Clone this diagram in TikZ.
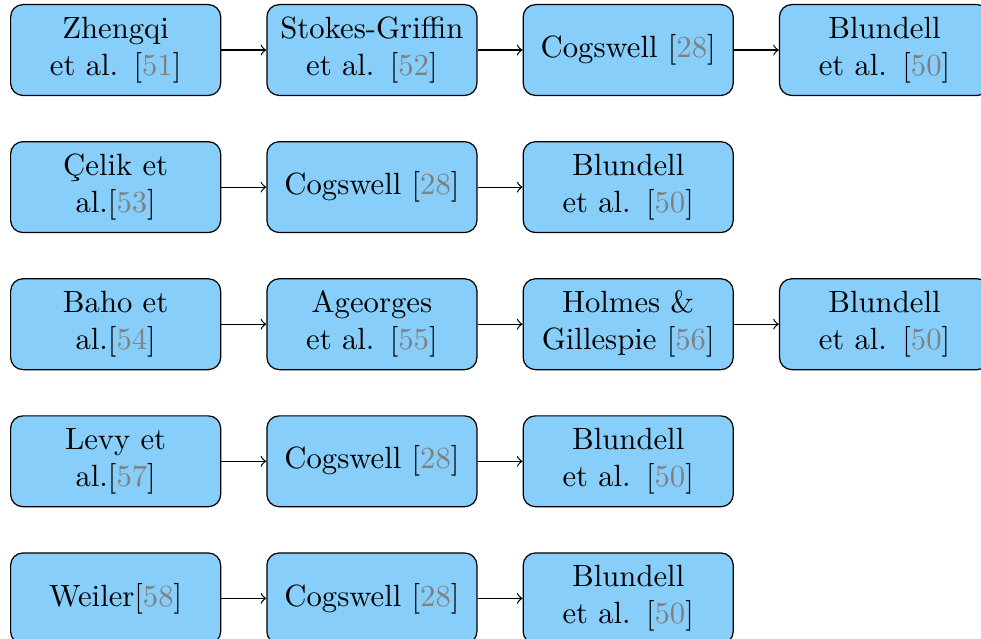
\documentclass[tikz,border=0pt]{standalone}
\usepackage{fontspec}
\usepackage{xcolor}
\usepackage{tikz}
\usetikzlibrary{positioning}
\definecolor{boxblue}{RGB}{135,206,250}
\newcommand{\bibref}[1]{[\textcolor{gray}{#1}]}
\tikzset{
  work/.style={draw=black, fill=boxblue, rounded corners=4pt, text width=2.17cm,
    align=center, minimum height=1.04cm, inner sep=3.33pt},
  flow/.style={->, draw=black, line width=0.4pt}
}

\begin{document}
\begin{tikzpicture}[node distance=0.515cm]
  \useasboundingbox (-3.26pt,1.3pt) rectangle (316.2pt,-206.5pt);
  % row 1
  \node[work, anchor=north west] (a1) at (0,0) {Zhengqi et al. \bibref{51}};
  \node[work, right=of a1] (a2) {Stokes-Griffin et al. \bibref{52}};
  \node[work, right=of a2] (a3) {Cogswell \bibref{28}};
  \node[work, right=of a3] (a4) {Blundell et al. \bibref{50}};
  % row 2
  \node[work, below=of a1] (b1) {Çelik et al.\bibref{53}};
  \node[work, right=of b1] (b2) {Cogswell \bibref{28}};
  \node[work, right=of b2] (b3) {Blundell et al. \bibref{50}};
  % row 3
  \node[work, below=of b1] (c1) {Baho et al.\bibref{54}};
  \node[work, right=of c1] (c2) {Ageorges et al. \bibref{55}};
  \node[work, right=of c2] (c3) {Holmes \& Gillespie \bibref{56}};
  \node[work, right=of c3] (c4) {Blundell et al. \bibref{50}};
  % row 4
  \node[work, below=of c1] (d1) {Levy et al.\bibref{57}};
  \node[work, right=of d1] (d2) {Cogswell \bibref{28}};
  \node[work, right=of d2] (d3) {Blundell et al. \bibref{50}};
  % row 5
  \node[work, below=of d1] (e1) {Weiler\bibref{58}};
  \node[work, right=of e1] (e2) {Cogswell \bibref{28}};
  \node[work, right=of e2] (e3) {Blundell et al. \bibref{50}};
  % arrows
  \draw[flow] (a1) -- (a2);
  \draw[flow] (a2) -- (a3);
  \draw[flow] (a3) -- (a4);
  \draw[flow] (b1) -- (b2);
  \draw[flow] (b2) -- (b3);
  \draw[flow] (c1) -- (c2);
  \draw[flow] (c2) -- (c3);
  \draw[flow] (c3) -- (c4);
  \draw[flow] (d1) -- (d2);
  \draw[flow] (d2) -- (d3);
  \draw[flow] (e1) -- (e2);
  \draw[flow] (e2) -- (e3);
\end{tikzpicture}
\end{document}
